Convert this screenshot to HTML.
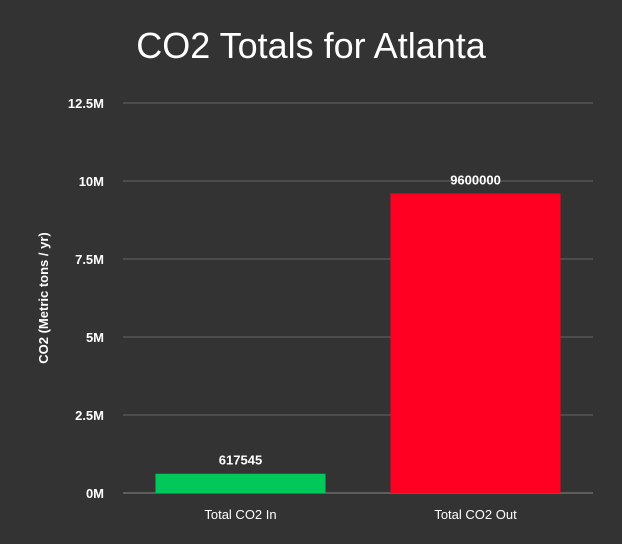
<!DOCTYPE html>
<html><head><meta charset="utf-8"><style>
body{margin:0;background:#333;}
svg{display:block;font-family:"Liberation Sans",sans-serif;}
</style></head><body>
<svg id="c" width="622" height="544">
<rect width="622" height="544" fill="#333"/>
<text x="311" y="58" text-anchor="middle" fill="#fff" font-size="36">CO2 Totals for Atlanta</text>
<text transform="translate(48,298) rotate(-90)" text-anchor="middle" fill="#fff" font-size="13" font-weight="bold">CO2 (Metric tons / yr)</text>
<g id="g"></g>
</svg>
<script>
const categories=["Total CO2 In","Total CO2 Out"];
const values=[617545,9600000];
const colors=["#00c85a","#ff0022"];
const ticks=[0,2.5,5,7.5,10,12.5];
const tickLabels=["0M","2.5M","5M","7.5M","10M","12.5M"];
const ns="http://www.w3.org/2000/svg";
const g=document.getElementById('g');
const x0=123,x1=593,yb=493,yt=103,maxV=12.5e6;
const y=v=>yb-(v/maxV)*(yb-yt);
const band=(x1-x0)/categories.length;
const xc=i=>x0+band*(i+0.5);
function mk(t,a){const e=document.createElementNS(ns,t);for(const k in a)e.setAttribute(k,a[k]);g.appendChild(e);return e;}
ticks.forEach((t,i)=>{
 const l=mk('line',{x1:x0,x2:x1,y1:y(t*1e6),y2:y(t*1e6),stroke:i?'#666':'#888','stroke-width':1});
 
 
 const tx=mk('text',{x:104,y:y(t*1e6)+5,'text-anchor':'end',fill:'#fff','font-size':13,'font-weight':'bold'});
 tx.textContent=tickLabels[i];
 
 
});
const bw=170;
values.forEach((v,i)=>{
 const r=mk('rect',{x:xc(i)-bw/2,y:y(v),width:bw,height:yb-y(v),fill:colors[i]});
 
 
 const vl=mk('text',{x:xc(i),y:y(v)-9,'text-anchor':'middle',fill:'#fff','font-size':13,'font-weight':'bold'});
 vl.textContent=String(v);
 
 
 const cl=mk('text',{x:xc(i),y:519,'text-anchor':'middle',fill:'#fff','font-size':13});
 cl.textContent=categories[i];
 
 
});
</script>
</body></html>
